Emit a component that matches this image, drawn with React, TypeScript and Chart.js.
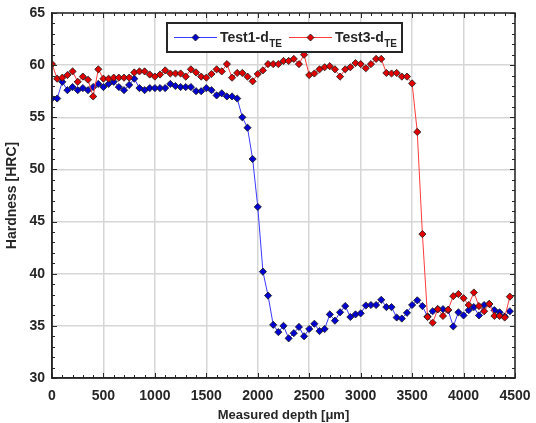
import React, { useEffect, useRef } from "react";
import { Chart, registerables } from "chart.js";

Chart.register(...registerables);

const depths = [
  0, 50, 100, 150, 200, 250, 300, 350, 400, 450,
  500, 550, 600, 650, 700, 750, 800, 850, 900, 950,
  1000, 1050, 1100, 1150, 1200, 1250, 1300, 1350, 1400, 1450,
  1500, 1550, 1600, 1650, 1700, 1750, 1800, 1850, 1900, 1950,
  2000, 2050, 2100, 2150, 2200, 2250, 2300, 2350, 2400, 2450,
  2500, 2550, 2600, 2650, 2700, 2750, 2800, 2850, 2900, 2950,
  3000, 3050, 3100, 3150, 3200, 3250, 3300, 3350, 3400, 3450,
  3500, 3550, 3600, 3650, 3700, 3750, 3800, 3850, 3900, 3950,
  4000, 4050, 4100, 4150, 4200, 4250, 4300, 4350, 4400, 4450,
];

const test1 = [
  56.8, 56.8, 58.4, 57.6, 57.9, 57.6, 57.8, 57.6, 57.9, 58.2,
  57.9, 58.2, 58.4, 57.9, 57.6, 58.1, 58.7, 57.8, 57.6, 57.8,
  57.8, 57.8, 57.8, 58.2, 58.0, 57.9, 57.9, 57.9, 57.5, 57.5,
  57.8, 57.6, 57.1, 57.3, 57.0, 57.0, 56.8, 55.0, 54.0, 51.0,
  46.4, 40.2, 37.9, 35.1, 34.4, 35.0, 33.8, 34.3, 34.9, 34.0,
  34.7, 35.2, 34.5, 34.7, 36.1, 35.5, 36.3, 36.9, 35.85, 36.1,
  36.2, 36.95, 37.0, 37.0, 37.5, 36.8, 36.8, 35.8, 35.7, 36.25,
  37.0, 37.45, 36.9, 35.9, 36.4, 36.6, 36.6, 36.5, 34.95, 36.3,
  36.0, 36.5, 36.8, 36.0, 37.0, 37.1, 36.5, 36.3, 35.9, 36.4,
];

const test3 = [
  60.1, 58.7, 58.8, 59.05, 59.4, 58.4, 58.9, 58.6, 57.0, 59.6,
  58.7, 58.7, 58.8, 58.8, 58.8, 58.8, 59.3, 59.4, 59.4, 59.1,
  58.9, 59.1, 59.5, 59.2, 59.2, 59.2, 58.9, 59.6, 59.3, 58.9,
  58.8, 59.15, 59.6, 59.4, 60.1, 58.8, 59.25, 59.25, 58.9, 58.45,
  59.15, 59.5, 60.1, 60.1, 60.1, 60.4, 60.4, 60.6, 60.1, 61.0,
  59.05, 59.2, 59.6, 59.8, 59.9, 59.6, 58.9, 59.6, 59.8, 60.2,
  60.1, 59.7, 60.1, 60.6, 60.6, 59.25, 59.2, 59.25, 58.9, 58.9,
  58.25, 53.6, 43.8, 35.85, 35.3, 36.6, 35.95, 36.55, 37.85, 38.05,
  37.65, 37.0, 38.2, 36.9, 36.4, 37.1, 35.95, 35.95, 35.8, 37.8,
];

const xTickValues = [0, 500, 1000, 1500, 2000, 2500, 3000, 3500, 4000, 4500];
const yTickValues = [30, 35, 40, 45, 50, 55, 60, 65];

const seriesNames = ["Test1-d", "Test3-d"];
const seriesSub = "TE";
const xTitle = "Measured depth [\u03bcm]";
const yTitle = "Hardness [HRC]";

const AXIS = "#262626";
const GRID = "#d6d6d6";
const BLUE_LINE = "#3a3aff";
const BLUE_FILL = "#0000d0";
const RED_LINE = "#ff3c3c";
const RED_FILL = "#e00000";
const MARK_EDGE = "#1a1a1a";
const FONT = "'Liberation Sans', Arial, sans-serif";

function diamond(ctx: CanvasRenderingContext2D, x: number, y: number, r: number, fill: string) {
  ctx.beginPath();
  ctx.moveTo(x, y - r);
  ctx.lineTo(x + r, y);
  ctx.lineTo(x, y + r);
  ctx.lineTo(x - r, y);
  ctx.closePath();
  ctx.fillStyle = fill;
  ctx.fill();
  ctx.lineWidth = 0.8;
  ctx.strokeStyle = MARK_EDGE;
  ctx.stroke();
}

const framePlugin = {
  id: "matlabFrame",
  afterDatasetsDraw(chart: any) {
    const { ctx, chartArea } = chart;
    const { left, right, top, bottom } = chartArea;
    const xs = chart.scales.x;
    const ys = chart.scales.y;
    ctx.save();
    ctx.strokeStyle = AXIS;
    ctx.lineWidth = 1;
    for (let v = xs.min; v <= xs.max + 1e-6; v += 100) {
      const px = Math.round(xs.getPixelForValue(v)) + 0.5;
      const len = Math.abs(v % 500) < 1e-6 ? 5 : 3;
      ctx.beginPath();
      ctx.moveTo(px, bottom);
      ctx.lineTo(px, bottom - len);
      ctx.moveTo(px, top);
      ctx.lineTo(px, top + len);
      ctx.stroke();
    }
    for (let v = ys.min; v <= ys.max + 1e-6; v += 1) {
      const py = Math.round(ys.getPixelForValue(v)) + 0.5;
      const len = Math.abs(v % 5) < 1e-6 ? 5 : 3;
      ctx.beginPath();
      ctx.moveTo(left, py);
      ctx.lineTo(left + len, py);
      ctx.moveTo(right, py);
      ctx.lineTo(right - len, py);
      ctx.stroke();
    }
    ctx.lineWidth = 1.5;
    ctx.strokeRect(left, top, right - left, bottom - top);
    ctx.restore();
  },
  afterDraw(chart: any) {
    const { ctx } = chart;
    ctx.save();
    const bx = 167, by = 23, bw = 235, bh = 29;
    ctx.fillStyle = "#ffffff";
    ctx.fillRect(bx, by, bw, bh);
    ctx.strokeStyle = AXIS;
    ctx.lineWidth = 2;
    ctx.strokeRect(bx, by, bw, bh);
    const cy = by + bh / 2;
    const items = [
      { x0: 174, x1: 217, text: 220, line: BLUE_LINE, fill: BLUE_FILL, name: seriesNames[0] },
      { x0: 289, x1: 332, text: 335, line: RED_LINE, fill: RED_FILL, name: seriesNames[1] },
    ];
    for (const it of items) {
      ctx.strokeStyle = it.line;
      ctx.lineWidth = 1;
      ctx.beginPath();
      ctx.moveTo(it.x0, cy);
      ctx.lineTo(it.x1, cy);
      ctx.stroke();
      diamond(ctx, (it.x0 + it.x1) / 2, cy, 3.5, it.fill);
      ctx.fillStyle = AXIS;
      ctx.textBaseline = "alphabetic";
      ctx.textAlign = "left";
      ctx.font = `bold 14px ${FONT}`;
      ctx.fillText(it.name, it.text, cy + 4);
      const w = ctx.measureText(it.name).width;
      ctx.font = `bold 10px ${FONT}`;
      ctx.fillText(seriesSub, it.text + w + 0.5, cy + 9);
    }
    ctx.restore();
  },
};

export default function App() {
  const ref = useRef<HTMLCanvasElement | null>(null);

  useEffect(() => {
    if (!ref.current) return;
    const toPts = (ys: number[]) => depths.map((d, i) => ({ x: d, y: ys[i] }));
    const chart = new Chart(ref.current, {
      type: "line",
      data: {
        datasets: [
          {
            label: seriesNames[1] + seriesSub,
            data: toPts(test3),
            borderColor: RED_LINE,
            borderWidth: 1,
            backgroundColor: RED_FILL,
            pointBackgroundColor: RED_FILL,
            pointBorderColor: MARK_EDGE,
            pointBorderWidth: 0.8,
            pointStyle: "rectRot",
            pointRadius: 3.6,
            tension: 0,
            order: 0,
          },
          {
            label: seriesNames[0] + seriesSub,
            data: toPts(test1),
            borderColor: BLUE_LINE,
            borderWidth: 1,
            backgroundColor: BLUE_FILL,
            pointBackgroundColor: BLUE_FILL,
            pointBorderColor: MARK_EDGE,
            pointBorderWidth: 0.8,
            pointStyle: "rectRot",
            pointRadius: 3.6,
            tension: 0,
            order: 1,
          },
        ],
      },
      options: {
        responsive: false,
        animation: false,
        layout: { padding: { left: 0, right: 21, top: 13, bottom: 0 } },
        plugins: { legend: { display: false }, tooltip: { enabled: false } },
        scales: {
          x: {
            type: "linear",
            min: 0,
            max: 4500,
            afterBuildTicks: (s: any) => {
              s.ticks = xTickValues.map((v) => ({ value: v }));
            },
            afterFit: (s: any) => {
              s.height = 45;
              s.paddingLeft = 0;
              s.paddingRight = 0;
            },
            ticks: {
              color: AXIS,
              font: { family: FONT, size: 14, weight: "bold" },
              padding: 10,
              maxRotation: 0,
              autoSkip: false,
              callback: (v: any) => String(v),
            },
            grid: { color: GRID, lineWidth: 1.5, drawTicks: false },
            border: { display: true, color: AXIS, width: 1.5 },
            title: {
              display: true,
              text: xTitle,
              color: AXIS,
              font: { family: FONT, size: 13, weight: "bold" },
              padding: { top: 5, bottom: 0 },
            },
          },
          y: {
            type: "linear",
            min: 30,
            max: 65,
            afterBuildTicks: (s: any) => {
              s.ticks = yTickValues.map((v) => ({ value: v }));
            },
            afterFit: (s: any) => {
              s.width = 52;
              s.paddingTop = 0;
              s.paddingBottom = 0;
            },
            ticks: {
              color: AXIS,
              font: { family: FONT, size: 14, weight: "bold" },
              padding: 7,
              autoSkip: false,
              callback: (v: any) => String(v),
            },
            grid: { color: GRID, lineWidth: 1.5, drawTicks: false },
            border: { display: true, color: AXIS, width: 1.5 },
            title: {
              display: true,
              text: yTitle,
              color: AXIS,
              font: { family: FONT, size: 14, weight: "bold" },
              padding: { top: 4, bottom: 0 },
            },
          },
        },
      },
      plugins: [framePlugin],
    } as any);
    return () => chart.destroy();
  }, []);

  return (
    <div style={{ position: "fixed", left: 0, top: 0, width: 536, height: 423, background: "#fff" }}>
      <canvas ref={ref} width={536} height={423} style={{ display: "block", width: 536, height: 423 }} />
    </div>
  );
}
